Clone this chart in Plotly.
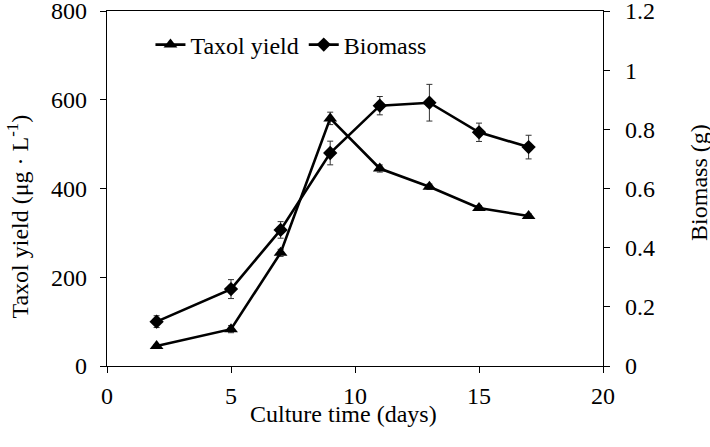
import plotly.graph_objects as go

days = [2, 5, 7, 9, 11, 13, 15, 17]
taxol_yield = [45, 83, 255, 558, 445, 404, 356, 338]
taxol_err = [3, 8, 8, 14, 8, 6, 5, 5]
biomass = [0.15, 0.26, 0.46, 0.72, 0.88, 0.89, 0.79, 0.74]
biomass_err = [0.02, 0.032, 0.028, 0.04, 0.031, 0.062, 0.031, 0.04]

FONT = "Liberation Serif, Times New Roman, serif"
FS = 24
L, R, T, B = 106.5, 603.0, 11.0, 366.0
W, H = 710, 447

def px_x(p):
    return (p - L) / (R - L)

def px_y(p):
    return (B - p) / (B - T)

fig = go.Figure()
fig.add_trace(go.Scatter(
    x=days, y=taxol_yield, name="Taxol yield", mode="lines+markers",
    line=dict(color="black", width=2.6),
    marker=dict(symbol="triangle-up", size=12, color="black"),
    error_y=dict(type="data", array=taxol_err, color="#333333", thickness=1, width=3),
    yaxis="y"))
fig.add_trace(go.Scatter(
    x=days, y=biomass, name="Biomass", mode="lines+markers",
    line=dict(color="black", width=2.6),
    marker=dict(symbol="diamond", size=11, color="black"),
    error_y=dict(type="data", array=biomass_err, color="#333333", thickness=1, width=3),
    yaxis="y2"))

axis_common = dict(showline=True, linecolor="black", linewidth=1.3, ticks="outside",
                   ticklen=6, tickcolor="black", tickwidth=1.3, showgrid=False,
                   zeroline=False, ticklabeloverflow="allow",
                   tickfont=dict(family=FONT, size=FS, color="black"))

fig.update_layout(
    width=W, height=H,
    margin=dict(l=L, r=W - R, t=T, b=H - B, autoexpand=False),
    paper_bgcolor="white", plot_bgcolor="white",
    font=dict(family=FONT, size=FS, color="black"),
    xaxis=dict(range=[0, 20], dtick=5, mirror=True, ticklabelstandoff=2, **axis_common),
    yaxis=dict(range=[0, 800], dtick=200, ticklabelstandoff=8, **axis_common),
    yaxis2=dict(range=[0, 1.2], dtick=0.2, overlaying="y", side="right",
                tickvals=[0, 0.2, 0.4, 0.6, 0.8, 1.0, 1.2],
                ticktext=["0", "0.2", "0.4", "0.6", "0.8", "1", "1.2"],
                ticklabelstandoff=10, **axis_common),
    legend=dict(orientation="h", x=px_x(150), y=px_y(45), xanchor="left", yanchor="middle",
                font=dict(family=FONT, size=FS, color="black"), bgcolor="rgba(0,0,0,0)",
                itemwidth=30, tracegroupgap=0),
    showlegend=True,
    annotations=[
        dict(text="Culture time (days)", xref="paper", yref="paper",
             x=px_x(343.5), y=px_y(414), showarrow=False,
             font=dict(family=FONT, size=FS, color="black"), xanchor="center", yanchor="middle"),
        dict(text="Taxol yield (μg · L<sup>-1</sup>)", xref="paper", yref="paper",
             x=px_x(17), y=px_y(217), showarrow=False, textangle=-90,
             font=dict(family=FONT, size=FS, color="black"), xanchor="center", yanchor="middle"),
        dict(text="Biomass (g)", xref="paper", yref="paper",
             x=px_x(699), y=px_y(182), showarrow=False, textangle=-90,
             font=dict(family=FONT, size=FS, color="black"), xanchor="center", yanchor="middle"),
    ],
)

fig.write_html("out.html", config={"displayModeBar": False},
               post_script="document.body.style.margin='0';document.body.style.overflow='hidden';")
